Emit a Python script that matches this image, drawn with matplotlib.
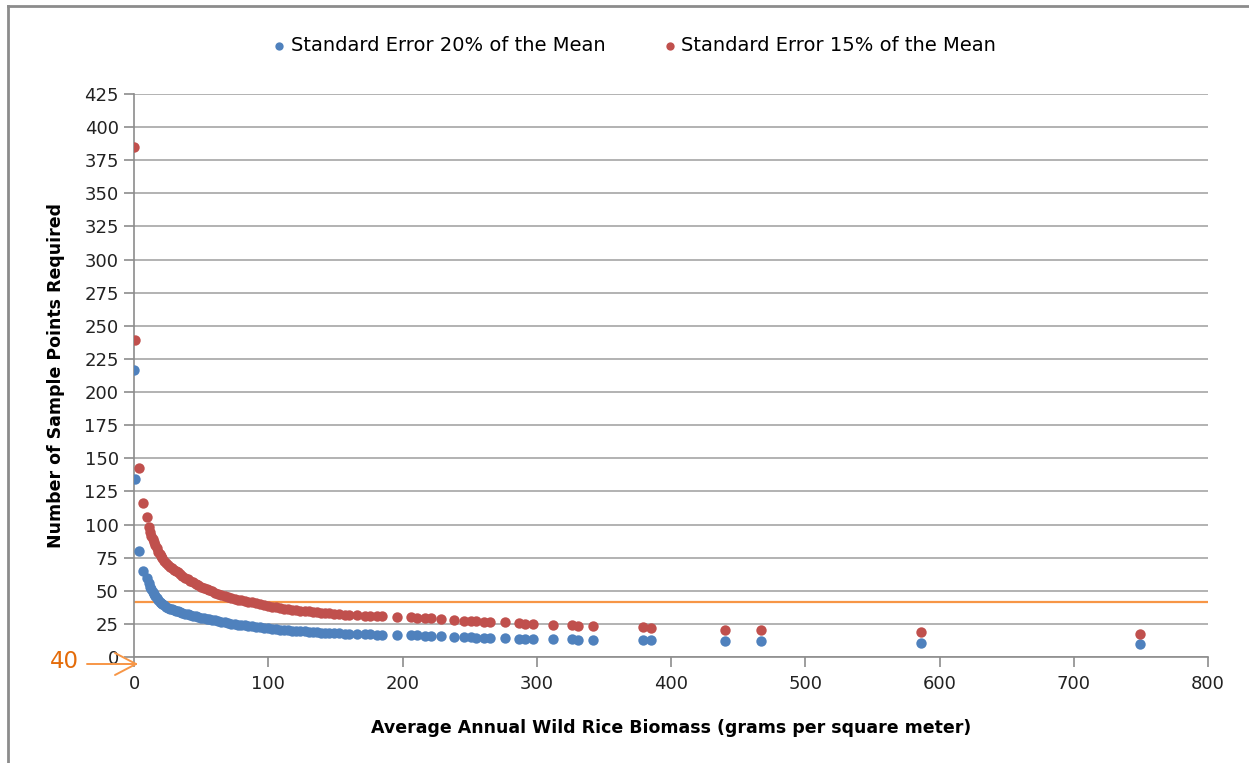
import matplotlib
matplotlib.use("Agg")
import matplotlib.pyplot as plt
from matplotlib.lines import Line2D

# Average annual biomass (g/m2) shared by both series
biomass = [0, 0.7, 4, 6.9, 9.3, 10.8,
           12, 13, 14, 15, 16, 17, 18, 19, 20, 21, 22.5, 24, 25.5, 27, 28.5,
           30, 31.5, 33, 34.5, 36, 38, 40, 42, 44, 46, 48, 50, 52, 54, 56, 58,
           60, 62.5, 65, 67.5, 70, 72.5, 75, 77.5, 80, 82.5, 85, 88, 91, 94,
           97, 100, 103, 106, 109, 112, 115, 118, 121, 124, 127, 130, 133,
           136, 139, 142, 145, 149, 153, 157, 160, 166, 172, 176, 181, 185,
           196, 206, 211, 217, 221,
           229, 238, 246, 251, 255, 261, 265, 276, 287, 291, 297, 312, 326,
           331, 342, 379, 385, 440, 467, 586, 749]

# Sample points required, standard error 20% of the mean
se20 = [217, 134.5, 80, 65, 59.5, 56,
        53, 51, 49.2, 47.5, 46, 44.5, 43, 41.6, 40.6, 39.8, 38.9, 38, 37.3,
        36.6, 36, 35.5, 35, 34.4, 33.8, 33.3, 32.7, 32.2, 31.7, 31.2, 30.7,
        30.2, 29.8, 29.3, 28.9, 28.5, 28.1, 27.6, 27.1, 26.6, 26.2, 25.7,
        25.3, 24.9, 24.5, 24.1, 23.8, 23.5, 23.1, 22.8, 22.4, 22.1, 21.8,
        21.4, 21.1, 20.7, 20.4, 20.2, 19.9, 19.7, 19.5, 19.3, 19.1, 18.9,
        18.7, 18.5, 18.4, 18.2, 18.0, 17.8, 17.6, 17.5, 17.3, 17.1, 17.0,
        16.9, 16.8, 16.6, 16.4, 16.3, 16.2, 16.1,
        15.9, 15.4, 15.0, 14.8, 14.7, 14.5, 14.4, 14.1, 13.9, 13.8, 13.7,
        13.5, 13.3, 13.2, 13.1, 12.6, 12.5, 12.0, 11.8, 10.7, 9.8]

# Sample points required, standard error 15% of the mean
se15 = [385, 239, 142.5, 116.5, 105.5, 98,
        94, 91.5, 89.3, 87, 84.5, 82, 79.5, 77.8, 76.3, 74.8, 72.8, 71, 69.6,
        68.3, 67.1, 66, 65, 63.9, 62.8, 61.4, 60, 58.8, 57.6, 56.5, 55.2, 54,
        52.7, 52, 51.3, 50.4, 49.5, 48.6, 47.6, 46.5, 45.8, 45.2, 44.6, 44,
        43.4, 42.8, 42.2, 41.8, 41.3, 40.6, 40.0, 39.2, 38.5, 37.9, 37.4,
        36.9, 36.5, 36.1, 35.7, 35.3, 35, 34.7, 34.4, 34.1, 33.8, 33.5, 33.3,
        33.1, 32.8, 32.4, 32, 31.8, 31.5, 31.2, 31, 30.8, 30.6, 30.2, 29.9,
        29.7, 29.4, 29.2,
        28.7, 28.2, 27.5, 27.2, 27, 26.8, 26.6, 26.1, 25.5, 25.3, 25, 24.2,
        23.8, 23.6, 23.2, 22.3, 22.1, 20.5, 20.3, 18.7, 17]

threshold = 41.5
threshold_label = "40"

blue = "#4F81BD"
red = "#C0504D"
orange = "#F79646"
grid_col = "#A6A6A6"

W, H = 1249, 763
fig = plt.figure(figsize=(W / 100, H / 100), dpi=100)
ax = fig.add_axes([0.1073, 0.1389, 0.8599, 0.7379])

ax.scatter(biomass, se20, s=56, color=blue, zorder=3,
           label="Standard Error 20% of the Mean", linewidths=0)
ax.scatter(biomass, se15, s=56, color=red, zorder=3,
           label="Standard Error 15% of the Mean", linewidths=0)
ax.axhline(threshold, color=orange, lw=1.6, zorder=2)

ax.set_xlim(0, 800)
ax.set_ylim(0, 425)
ax.set_xticks(range(0, 801, 100))
ax.set_yticks(range(0, 426, 25))
ax.grid(axis="y", color=grid_col, lw=1.2)
ax.set_axisbelow(True)
for s in ["top", "right"]:
    ax.spines[s].set_visible(False)
for s in ["left", "bottom"]:
    ax.spines[s].set_color("#8C8C8C")
    ax.spines[s].set_linewidth(1.2)
ax.tick_params(axis="both", colors="#8C8C8C", labelcolor="#222222",
               labelsize=13, length=7, width=1.2)
ax.tick_params(axis="y", pad=4)
ax.tick_params(axis="x", pad=6)

ax.set_xlabel("Average Annual Wild Rice Biomass (grams per square meter)",
              fontsize=12.5, fontweight="bold", labelpad=19)
ax.set_ylabel("Number of Sample Points Required",
              fontsize=12.5, fontweight="bold", labelpad=14)

fig.legend(loc="center", bbox_to_anchor=(0.506, 0.94), ncol=2, frameon=False,
           fontsize=14, markerscale=0.8, handletextpad=0.0,
           columnspacing=2.7, handlelength=1.2)

# orange "40" callout with an open arrow pointing at the axis origin
fig.text(64 / W, 1 - 662 / H, threshold_label, color="#E46C0A",
         fontsize=16.5, ha="center", va="center")

def px(x, y):
    return x / W, 1 - y / H

for (x0, y0), (x1, y1) in [((87, 664), (136, 664)),
                           ((115, 653), (136, 664)),
                           ((115, 675), (136, 664))]:
    a, b = px(x0, y0)
    c, d = px(x1, y1)
    fig.add_artist(Line2D([a, c], [b, d], color=orange, lw=1.4,
                          solid_capstyle="round", transform=fig.transFigure))

# outer chart border (top and left edges)
fig.add_artist(Line2D([8 / W, 1], [1 - 6 / H, 1 - 6 / H],
                      color="#8C8C8C", lw=2, transform=fig.transFigure))
fig.add_artist(Line2D([8 / W, 8 / W], [0, 1 - 6 / H],
                      color="#8C8C8C", lw=2, transform=fig.transFigure))

fig.savefig("out.png", dpi=100)
